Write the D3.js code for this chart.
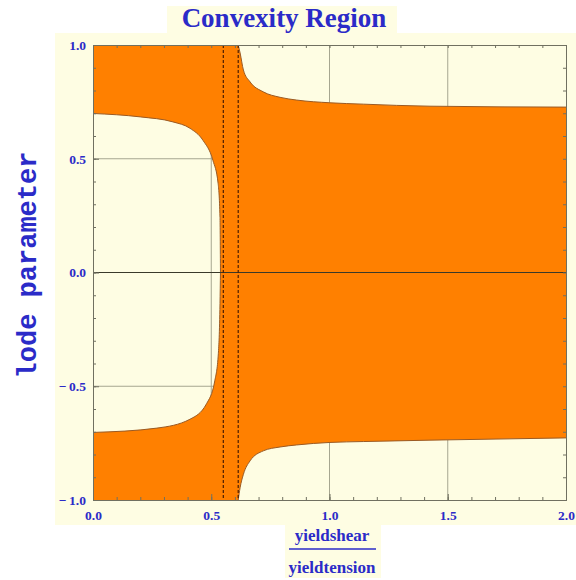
<!DOCTYPE html>
<html>
<head>
<meta charset="utf-8">
<script src="https://cdn.jsdelivr.net/npm/d3@7"></script>
<style>
  body { margin: 0; background: #fff; }
  svg { display: block; }
</style>
</head>
<body>
<div id="chart"></div>
<script>
// Boundary curves of the non-convex (cream) regions
const leftUpper = [[0, 0.699], [0.2, 0.684], [0.338, 0.662], [0.41, 0.634], [0.465, 0.581],
  [0.507, 0.493], [0.529, 0.392], [0.537, 0.242], [0.539, 0]];
const leftLower = [[0, -0.703], [0.27, -0.684], [0.41, -0.645], [0.48, -0.577], [0.515, -0.476],
  [0.53, -0.357], [0.537, -0.137], [0.539, 0]];
const rightUpper = [[0.614, 1.0], [0.622, 0.965], [0.636, 0.89], [0.664, 0.838], [0.72, 0.794],
  [0.791, 0.77], [0.861, 0.758], [1.002, 0.746], [1.143, 0.74], [1.425, 0.731], [2.0, 0.727]];
const rightLower = [[0.614, -1.0], [0.622, -0.946], [0.636, -0.887], [0.664, -0.828], [0.72, -0.784],
  [0.791, -0.767], [0.861, -0.758], [1.002, -0.747], [1.143, -0.743], [1.425, -0.737], [2.0, -0.727]];
const dashedX = [0.551, 0.614];
const xTicks = [0, 0.5, 1.0, 1.5, 2.0];
const yTicks = [-1.0, -0.5, 0.0, 0.5, 1.0];
const gridX = [0.5, 1.0, 1.5];
const gridY = [-0.5, 0.5];

const W = 576, H = 580;
const ORANGE = '#ff8000', CREAM = '#fefde3', BLUE = '#2b2bc8';

const svg = d3.select('#chart').append('svg').attr('width', W).attr('height', H);

// panel backgrounds
svg.append('rect').attr('x', 55).attr('y', 33).attr('width', W - 55).attr('height', 492).attr('fill', CREAM);
svg.append('rect').attr('x', 167).attr('y', 6).attr('width', 230).attr('height', 28).attr('fill', CREAM);
svg.append('rect').attr('x', 285).attr('y', 524).attr('width', 96).attr('height', 54).attr('fill', CREAM);

const x = d3.scaleLinear().domain([0, 2]).range([93, 566]);
const y = d3.scaleLinear().domain([-1, 1]).range([500, 45]);

const line = d3.line().x(d => x(d[0])).y(d => y(d[1])).curve(d3.curveMonotoneX);

// cream region paths
const leftD = line(leftUpper) + line(leftLower.slice().reverse()).replace(/^M/, 'L') + 'Z';
const topD = line(rightUpper) + `L${x(2)},${y(1)}L${x(rightUpper[0][0])},${y(1)}Z`;
const botD = line(rightLower) + `L${x(2)},${y(-1)}L${x(rightLower[0][0])},${y(-1)}Z`;

// orange fill over whole plot
svg.append('rect')
  .attr('x', x(0)).attr('y', y(1))
  .attr('width', x(2) - x(0)).attr('height', y(-1) - y(1))
  .attr('fill', ORANGE);

const clip = svg.append('defs').append('clipPath').attr('id', 'creamClip');
[leftD, topD, botD].forEach(d => clip.append('path').attr('d', d));

svg.selectAll('path.cream')
  .data([leftD, topD, botD])
  .join('path')
  .attr('class', 'cream')
  .attr('d', d => d)
  .attr('fill', CREAM);

// grid lines only show in cream parts
const grid = svg.append('g').attr('clip-path', 'url(#creamClip)')
  .attr('stroke', '#a6a690').attr('stroke-width', 1);
grid.selectAll('line.gx').data(gridX).join('line')
  .attr('x1', d => x(d)).attr('x2', d => x(d)).attr('y1', y(1)).attr('y2', y(-1));
grid.selectAll('line.gy').data(gridY).join('line')
  .attr('y1', d => y(d)).attr('y2', d => y(d)).attr('x1', x(0)).attr('x2', x(2));

// boundary strokes
svg.selectAll('path.edge')
  .data([leftUpper, leftLower, rightUpper, rightLower])
  .join('path')
  .attr('class', 'edge')
  .attr('d', d => line(d))
  .attr('fill', 'none')
  .attr('stroke', '#9a5a24')
  .attr('stroke-width', 1);

// zero line
svg.append('line')
  .attr('x1', x(0)).attr('x2', x(2)).attr('y1', y(0)).attr('y2', y(0))
  .attr('stroke', '#3a3a2a').attr('stroke-width', 1);

// dashed lines
svg.selectAll('line.dash').data(dashedX).join('line')
  .attr('x1', d => x(d)).attr('x2', d => x(d)).attr('y1', y(1)).attr('y2', y(-1))
  .attr('stroke', '#4a1c00').attr('stroke-width', 1.2)
  .attr('stroke-dasharray', '3,2');

// frame + ticks
const minorX = d3.range(0, 2.001, 0.1);
const minorY = d3.range(-1, 1.001, 0.1);
const styleAxis = g => {
  g.select('.domain').attr('stroke', '#707060');
  g.selectAll('.tick line').attr('stroke', '#707060');
};
svg.append('g').attr('transform', `translate(0,${y(-1)})`)
  .call(d3.axisBottom(x).tickValues(minorX).tickSize(-3).tickFormat(''))
  .call(styleAxis);
svg.append('g').attr('transform', `translate(0,${y(1)})`)
  .call(d3.axisTop(x).tickValues(minorX).tickSize(-3).tickFormat(''))
  .call(styleAxis);
svg.append('g').attr('transform', `translate(${x(0)},0)`)
  .call(d3.axisLeft(y).tickValues(minorY).tickSize(-3).tickFormat(''))
  .call(styleAxis);
svg.append('g').attr('transform', `translate(${x(2)},0)`)
  .call(d3.axisRight(y).tickValues(minorY).tickSize(-3).tickFormat(''))
  .call(styleAxis);

const fmt = d => (d < 0 ? '\u2212\u2009' : '') + Math.abs(d).toFixed(1);

const xAxis = svg.append('g').attr('transform', `translate(0,${y(-1)})`)
  .call(d3.axisBottom(x).tickValues(xTicks).tickSize(-6).tickPadding(10).tickFormat(fmt))
  .call(styleAxis);
const yAxis = svg.append('g').attr('transform', `translate(${x(0)},0)`)
  .call(d3.axisLeft(y).tickValues(yTicks).tickSize(-6).tickPadding(7).tickFormat(fmt))
  .call(styleAxis);
[xAxis, yAxis].forEach(g => g.selectAll('text')
  .attr('fill', BLUE)
  .style('font-family', '"Liberation Serif", "Times New Roman", serif')
  .style('font-weight', 'bold')
  .style('font-size', '13.5px'));

// title
svg.append('text')
  .attr('x', 284).attr('y', 27)
  .attr('text-anchor', 'middle')
  .attr('fill', BLUE)
  .style('font-family', '"Liberation Serif", "Times New Roman", serif')
  .style('font-weight', 'bold')
  .style('font-size', '27px')
  .text('Convexity Region');

// y label
svg.append('text')
  .attr('transform', 'translate(36,265) rotate(-90)')
  .attr('text-anchor', 'middle')
  .attr('fill', BLUE)
  .style('font-family', '"Liberation Mono", "Courier New", monospace')
  .style('font-weight', 'bold')
  .style('font-size', '27px')
  .text('lode parameter');

// x label as a fraction
const xl = svg.append('g').attr('fill', BLUE)
  .style('font-family', '"Liberation Serif", "Times New Roman", serif')
  .style('font-weight', 'bold')
  .style('font-size', '17px')
  .attr('text-anchor', 'middle');
xl.append('text').attr('x', 332).attr('y', 541).text('yieldshear');
xl.append('line').attr('x1', 289).attr('x2', 376).attr('y1', 549).attr('y2', 549)
  .attr('stroke', BLUE).attr('stroke-width', 1.5);
xl.append('text').attr('x', 332).attr('y', 573).text('yieldtension');
</script>
</body>
</html>
